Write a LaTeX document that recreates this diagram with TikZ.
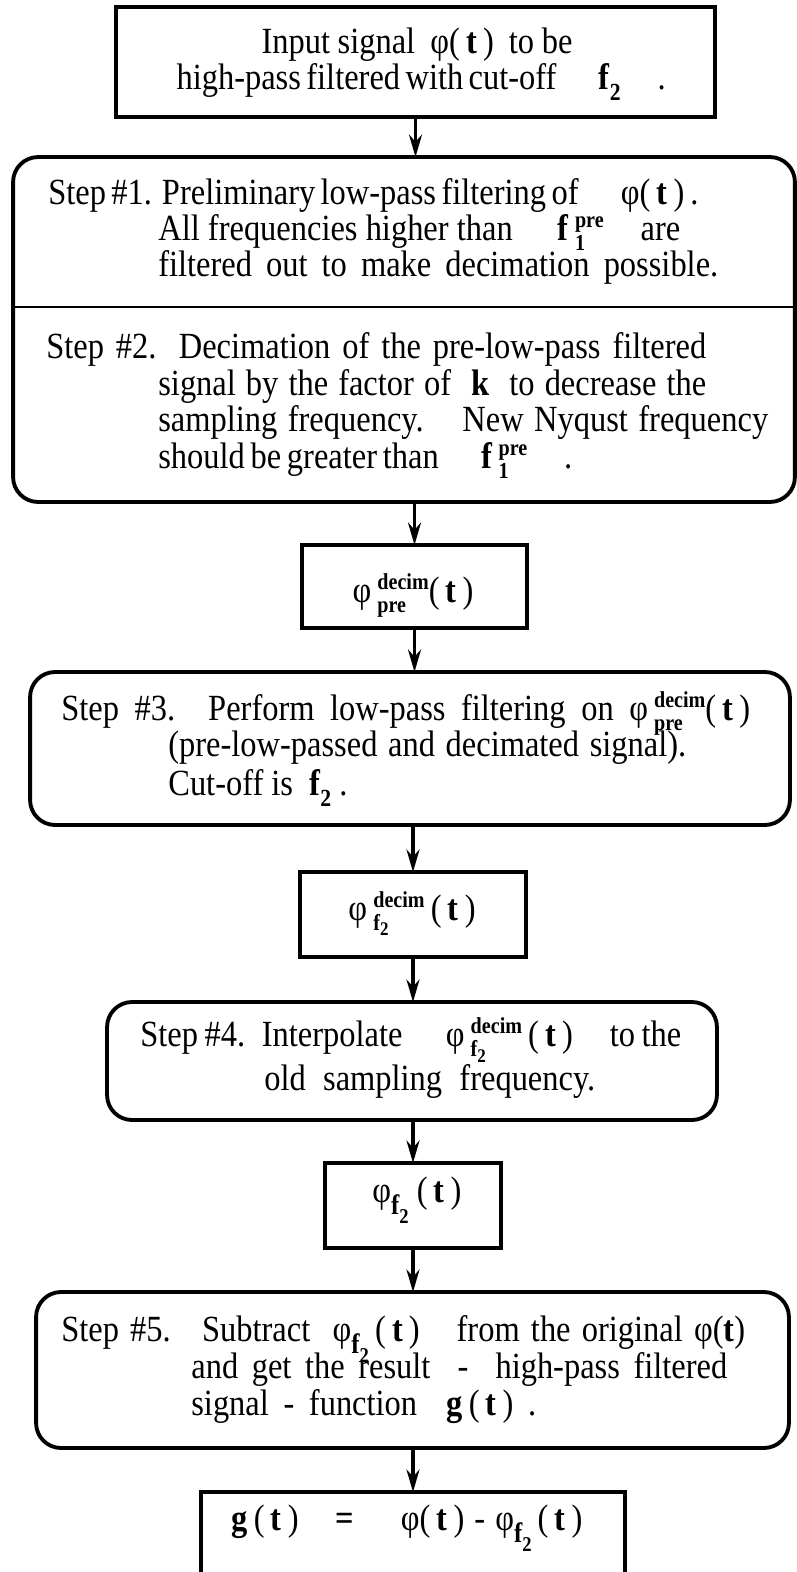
\documentclass[tikz,border=0pt]{standalone}
\usepackage{amsmath}
\usepackage{fontspec}
\setmainfont[FakeStretch=0.88]{Liberation Serif}
\usetikzlibrary{arrows.meta}

\newcommand{\fillto}[2]{\makebox[#1][s]{#2}}
% stacked bold upper/lower script
\newcommand{\scr}[2]{{\fontsize{13}{13}\selectfont\bfseries
  \setbox0=\hbox{\raisebox{0.55em}{#1}}%
  \setbox2=\hbox{\raisebox{-0.45em}{#2}}%
  \ifdim\wd0>\wd2 \rlap{\box2}\box0 \else\rlap{\box0}\box2 \fi}}
\newcommand{\phit}{φ(\,\textbf{t}\,)}
\newcommand{\tpar}{(\,\textbf{t}\,)}
\newcommand{\ftwo}{\textbf{f}\raisebox{-0.3em}{\fontsize{14}{14}\selectfont\bfseries 2}}
\newcommand{\fpre}{\textbf{f}\,\scr{pre}{1}}
\newcommand{\phiftwo}{φ\raisebox{-0.35em}{\fontsize{16}{16}\selectfont\bfseries f\raisebox{-0.3em}{\fontsize{12}{12}\selectfont 2}}}

\tikzset{
  sqbox/.style={draw, line width=2.2pt, inner sep=0pt, outer sep=0pt},
  stepbox/.style={sqbox, rounded corners=0.5cm},
  flow/.style={line width=1.8pt, -{Stealth[length=0.45cm, width=0.26cm]}},
  txt/.style={anchor=base west, inner sep=0pt, font=\fontsize{21}{23}\selectfont},
  ctxt/.style={txt, anchor=base},
}

\begin{document}
\begin{tikzpicture}[x=0.02cm, y=-0.02cm]
    \useasboundingbox (0,0) rectangle (797,1572);
    % boxes
    \node[sqbox, minimum width=11.98cm, minimum height=2.2cm] (in) at (415.5,62) {};
    \node[stepbox, minimum width=15.64cm, minimum height=6.9cm] (s12) at (404,329.5) {};
    \node[sqbox, minimum width=4.5cm, minimum height=1.66cm] (pre) at (414.5,586.5) {};
    \node[stepbox, minimum width=15.2cm, minimum height=3.06cm] (s3) at (410,748.5) {};
    \node[sqbox, minimum width=4.52cm, minimum height=1.7cm] (dec) at (413,914.5) {};
    \node[stepbox, minimum width=12.2cm, minimum height=2.36cm] (s4) at (412,1061) {};
    \node[sqbox, minimum width=3.52cm, minimum height=1.7cm] (lp) at (413,1205.5) {};
    \node[stepbox, minimum width=15.06cm, minimum height=3.12cm] (s5) at (412.5,1370) {};
    \node[sqbox, minimum width=8.48cm, minimum height=3.16cm] (out) at (413,1571) {};
    \coordinate (cut) at (0,307);
    \draw[line width=1.1pt] (s12.west |- cut) -- (s12.east |- cut);
    % texts
    \node[ctxt] (in1) at (417,53) {\fillto{6.22cm}{Input signal \ \phit\ \ to be}};
    \node[ctxt] (in2) at (418,89) {\fillto{9.66cm}{high-pass filtered with cut-off \quad\ftwo\quad .}};
    \node[txt] (s1a) at (48,204) {\fillto{12.94cm}{Step \#1. Preliminary low-pass filtering of \quad\phit\,.}};
    \node[txt] (s1b) at (158,240) {\fillto{10.44cm}{All frequencies higher than \quad\fpre\quad are}};
    \node[txt] (s1c) at (158,276) {\fillto{11.2cm}{filtered out to make decimation possible.}};
    \node[txt] (s2a) at (46,358) {\fillto{13.2cm}{Step \#2. Decimation of the pre-low-pass filtered}};
    \node[txt] (s2b) at (158,395) {\fillto{10.96cm}{signal by the factor of \ \textbf{k} \ to decrease the}};
    \node[txt] (s2c) at (158,431) {\fillto{12.2cm}{sampling frequency. \ \ New Nyqust frequency}};
    \node[txt] (s2d) at (158,468) {\fillto{8.28cm}{should be greater than \quad\fpre\quad .}};
    \node[ctxt] (pret) at (413,602) {φ\,\scr{decim}{pre}\tpar};
    \node[txt] (s3a) at (61,720) {\fillto{13.78cm}{Step \#3. Perform low-pass filtering on φ\,\scr{decim}{pre}\tpar}};
    \node[txt] (s3b) at (168,756) {\fillto{10.36cm}{(pre-low-passed and decimated signal).}};
    \node[txt] (s3c) at (168,795) {Cut-off is \ \ftwo\ .};
    \node[ctxt] (dect) at (412,920) {φ\,\scr{decim}{f\raisebox{-0.25em}{\fontsize{11}{11}\selectfont 2}}\,\tpar};
    \node[txt] (s4a) at (140,1046) {\fillto{10.82cm}{Step \#4. \ Interpolate \quad φ\,\scr{decim}{f\raisebox{-0.25em}{\fontsize{11}{11}\selectfont 2}}\,\tpar \quad to the}};
    \node[txt] (s4b) at (264,1090) {\fillto{6.62cm}{old sampling frequency.}};
    \node[ctxt] (lpt) at (417,1202) {\phiftwo\ \tpar};
    \node[txt] (s5a) at (61,1341) {\fillto{13.68cm}{Step \#5. \ Subtract \ \phiftwo\,\tpar \quad from the original φ(\textbf{t})}};
    \node[txt] (s5b) at (191,1378) {\fillto{10.72cm}{and get the result \ - \ high-pass filtered}};
    \node[txt] (s5c) at (191,1415) {\fillto{6.9cm}{signal - function \ \textbf{g}\,\tpar\ .}};
    \node[ctxt] (outt) at (407,1530) {\fillto{7.02cm}{\textbf{g}\,\tpar \quad \textbf{=} \quad \phit\ - \phiftwo\,\tpar}};
    % arrows
    \draw[flow] (in.south) -- (in.south |- s12.north);
    \draw[flow] (pre.north |- s12.south) -- (pre.north);
    \draw[flow] (pre.south) -- (pre.south |- s3.north);
    \draw[flow] (dec.north |- s3.south) -- (dec.north);
    \draw[flow] (dec.south) -- (dec.south |- s4.north);
    \draw[flow] (lp.north |- s4.south) -- (lp.north);
    \draw[flow] (lp.south) -- (lp.south |- s5.north);
    \draw[flow] (out.north |- s5.south) -- (out.north);
\end{tikzpicture}
\end{document}
